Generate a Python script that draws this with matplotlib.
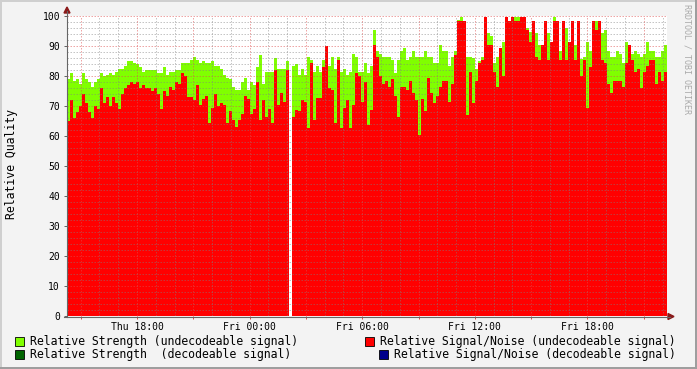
import numpy as np
import matplotlib.pyplot as plt
from matplotlib.patches import Rectangle, Polygon
from matplotlib.lines import Line2D

# relative strength (undecodeable signal), one value per consolidation step
strength = [
    79, 81, 78.5, 79, 77.5, 81, 79, 78, 76.5, 78, 79, 81, 80, 80.5, 81, 80.5, 81.5,
    82.5, 82.5, 83.5, 85, 85, 84.5, 84, 83, 81.5, 82, 82, 82, 82, 81, 81, 83,
    80.5, 81.5, 81.5, 82, 82, 84.5, 84.5, 84.5, 85.5, 86.3, 85.5, 84.5, 85, 84.5,
    84.5, 85, 83.3, 83.3, 82.3, 80.5, 79.3, 79, 76.3, 75.3, 75.3, 78, 79.3, 75.3,
    78, 77, 83, 87, 77.5, 81.3,
    81.3, 81.3, 86, 82.3, 82.3, 82.3, 85, np.nan, 83.3, 84, 80.3, 82.3, 80.3, 86.3,
    85.3, 81.3, 83.3, 81.3, 85.3, 90, 83.3, 86.3, 82.3, 86.3, 81.3, 82.3, 80.3,
    81.3, 87.3, 86.3, 81.3, 81.3, 84.3,
    81, 83.3, 95.3, 88.3, 87.5, 86.3, 86.3, 86.3, 85.3, 81, 85.3, 88.3, 89.3, 85.3,
    86.3, 88.3, 86.3, 86.3, 86.3, 88.3, 86.3, 86.3, 84.3, 84.3, 90.3, 88.3, 88.3,
    83.3, 86.3, 88.3, 98.7, 99.7, 98.3, 86.3,
    86.3, 86, 82.3, 85, 86.3, 90.3, 94.3, 93.3, 84.3, 86.3, 88.3, 91.3, 99.7, 98.3,
    99.7, 99.7, 99.7, 99.7, 99.7, 96, 94.8, 98.3, 94.3, 90.3, 88.3, 98.3, 94.3,
    91.3, 99.7, 98.3, 88.3, 98.3, 96,
    91.3, 98.3, 90.3, 98.3, 85.8, 86.3, 91.3, 88.3, 98.3, 98.3, 98.3, 94.3, 95.3,
    88.3, 86.3, 86.3, 88.3, 87.3, 84.3, 91.3, 87.3, 87.3, 88.3, 87.3, 86.3, 87.3,
    91.3, 88.3, 88.3, 86.3, 86.3, 88.3, 90.3,
]

# relative signal/noise (undecodeable signal)
snr = [
    65, 72, 66, 68, 70, 74, 71, 68, 66, 70, 69, 76, 71, 73, 70, 73, 71, 69, 74, 76,
    77, 78, 77.5, 78, 76, 77, 76, 76, 75, 76, 74, 69, 75,
    73.3, 76.2, 75.5, 78, 77.5, 81, 80, 73, 73, 72, 77, 70.5, 72.5, 73.3, 64.5,
    69.5, 74, 70, 71, 70.5, 64.5, 68.5, 65.3, 63, 65.3, 67.5, 73.3, 72.5, 67.5, 69,
    78, 65.5, 72, 66.5,
    69, 64.2, 82, 70.3, 74.2, 71.4, 82, np.nan, 66.4, 68.7, 68.3, 72, 71.4, 62.6,
    84.3, 65.3, 72.6, 72.6, 83, 90, 76, 75.3, 64.2, 85.3, 62.6, 69.5, 72, 62.6,
    70.3, 81, 80, 71.4, 78,
    63.7, 68.7, 90.3, 86.3, 80, 77.5, 78.3, 76.2, 79, 73.3, 66.4, 76.2, 76.2, 75.3,
    78.3, 74.2, 72, 60.5, 72.3, 68.3, 79.2, 74.2, 71, 73.3, 76.2, 78.3, 78.3, 71.4,
    77.3, 87, 98.3, 98.3, 98.3, 67,
    81.3, 71, 78.3, 84.3, 85.3, 99.7, 90.3, 90.3, 81.3, 76.2, 89.3, 80, 99.7, 98.3,
    99.7, 98.3, 98.3, 99.7, 99.7, 95.5, 91.3, 98.3, 86.3, 85.3, 90.3, 98.3, 85.3,
    91.3, 98.3, 98.3, 85.3, 98.3, 85.3,
    91.3, 98.3, 85.3, 98.3, 80, 85.3, 69.5, 83, 98.3, 95.3, 98.3, 85.3, 84.3, 77.3,
    74.2, 78.3, 78.3, 78.3, 76.2, 84.3, 90.3, 85.3, 81.3, 82.5, 76, 81.3, 83.5,
    85.3, 85.3, 77.3, 81.3, 78.3, 81.3,
]

tick_hours = [18, 24, 30, 36, 42]
tick_labels = ["Thu 18:00", "Fri 00:00", "Fri 06:00", "Fri 12:00", "Fri 18:00"]
legend_items = [
    ("Relative Strength (undecodeable signal)", "#80FF00"),
    ("Relative Signal/Noise (undecodeable signal)", "#FF0000"),
    ("Relative Strength  (decodeable signal)", "#006400"),
    ("Relative Signal/Noise (decodeable signal)", "#00008B"),
]

plt.rcParams["font.family"] = ["DejaVu Sans Mono", "DejaVu Sans"]

W, H = 697, 369
PX_PER_H = 18.77
xmin = 18 - 70 / PX_PER_H
xmax = xmin + 600 / PX_PER_H
step = 3 / PX_PER_H


def f(x, y):
    # pixel coords (top-left origin) -> figure fraction
    return (x / W, 1 - y / H)


fig = plt.figure(figsize=(W / 100, H / 100), dpi=100, facecolor="#F3F3F3")
ax = fig.add_axes([67 / W, 53 / H, 600 / W, 300 / H])
ax.set_facecolor("white")

left = xmin + step * np.arange(len(strength))
ax.bar(left, strength, width=step, align="edge", color="#80FF00", linewidth=0,
       antialiased=False, zorder=1)
ax.bar(left, snr, width=step, align="edge", color="#FF0000", linewidth=0,
       antialiased=False, zorder=2)

ax.set_xlim(xmin, xmax)
ax.set_ylim(0, 100)

minor_c = (0.5, 0.5, 0.5, 0.45)
major_c = (0.87, 0.31, 0.31, 0.5)
dots = (0, (1.5, 1.5))
for v in range(2, 101, 2):
    c = major_c if v % 10 == 0 else minor_c
    ax.axhline(v, color=c, lw=0.72, ls=dots, zorder=3)
for hh in range(int(np.ceil(xmin)), int(xmax) + 1):
    c = major_c if hh % 3 == 0 else minor_c
    ax.axvline(hh, color=c, lw=0.72, ls=dots, zorder=3)

for s in ax.spines.values():
    s.set_visible(False)

ax.set_yticks(range(0, 101, 10))
ax.tick_params(axis="y", length=2, width=0.72, color="#666666", pad=3,
               labelsize=7)
major_x = [h for h in range(15, 47, 3)]
ax.set_xticks(major_x)
ax.set_xticklabels([tick_labels[tick_hours.index(h)] if h in tick_hours else ""
                    for h in major_x])
ax.tick_params(axis="x", length=2, width=0.72, color=(0.87, 0.31, 0.31), pad=2,
               labelsize=7)

# axis lines and arrows
fig.add_artist(Line2D(*zip(f(67, 316.5), f(67, 11)), color="#666666", lw=0.8,
                      transform=fig.transFigure))
fig.add_artist(Line2D(*zip(f(64, 316.5), f(670, 316.5)), color="#666666", lw=0.8,
                      transform=fig.transFigure))
fig.add_artist(Polygon([f(64, 13), f(70, 13), f(67, 7)], closed=True,
                       color="#8B1A1A", transform=fig.transFigure))
fig.add_artist(Polygon([f(668, 313.5), f(668, 319.5), f(674, 316.5)], closed=True,
                       color="#8B1A1A", transform=fig.transFigure))

fig.text(*f(12, 164), "Relative Quality", rotation=90, ha="center", va="center",
         fontsize=8.3)
fig.text(*f(687, 4), "RRDTOOL / TOBI OETIKER", rotation=270, ha="center",
         va="top", fontsize=6, color="#AAAAAA")

# legend
boxes = [(15, 337, 30), (365, 337, 380), (15, 350, 30), (379, 350, 394)]
for (label, col), (bx, by, tx) in zip(legend_items, boxes):
    x0, y0 = f(bx, by + 9)
    fig.add_artist(Rectangle((x0, y0), 9 / W, 9 / H, facecolor=col,
                             edgecolor="black", lw=0.6, transform=fig.transFigure))
    fig.text(*f(tx, by + 4.5), label, ha="left", va="center", fontsize=8.3)

# 3d shade border
fig.add_artist(Rectangle((0, 1 - 2 / H), 1, 2 / H, color="#CFCFCF", lw=0,
                         transform=fig.transFigure))
fig.add_artist(Rectangle((0, 0), 2 / W, 1, color="#CFCFCF", lw=0,
                         transform=fig.transFigure))
fig.add_artist(Rectangle((0, 0), 1, 2 / H, color="#9E9E9E", lw=0,
                         transform=fig.transFigure))
fig.add_artist(Rectangle((1 - 2 / W, 0), 2 / W, 1, color="#9E9E9E", lw=0,
                         transform=fig.transFigure))

fig.savefig("out.png", dpi=100, facecolor=fig.get_facecolor())
